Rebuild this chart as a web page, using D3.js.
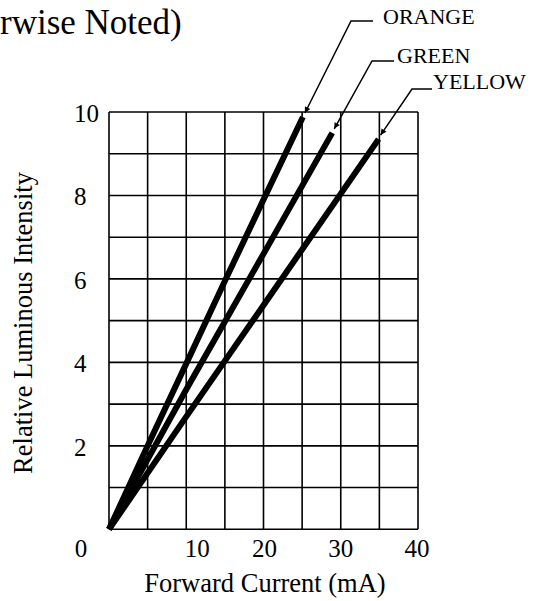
<!DOCTYPE html>
<html>
<head>
<meta charset="utf-8">
<script src="https://cdn.jsdelivr.net/npm/d3@7"></script>
<style>
  html, body { margin: 0; padding: 0; background: #fff; }
  svg { display: block; }
  text { font-family: "Liberation Serif", "Times New Roman", serif; fill: #000; }
</style>
</head>
<body>
<svg id="chart" width="536" height="601"></svg>
<script>
// ---- data ----
const seriesNames = ["ORANGE", "GREEN", "YELLOW"];
const orangeCurrent = [0, 5, 10, 15, 20, 25.1];
const orangeIntensity = [0, 2.0, 3.97, 5.95, 7.9, 9.88];
const greenCurrent = [0, 10, 20, 28.9];
const greenIntensity = [0, 3.35, 6.6, 9.5];
const yellowCurrent = [0, 10, 20, 34.9];
const yellowIntensity = [0, 2.7, 5.37, 9.35];
const xTickLabels = [0, 10, 20, 30, 40];
const yTickLabels = [2, 4, 6, 8, 10];
const xGridValues = [0, 5, 10, 15, 20, 25, 30, 35, 40];
const yGridValues = [0, 1, 2, 3, 4, 5, 6, 7, 8, 9, 10];
const titleText = "rwise Noted)";
const xTitle = "Forward Current (mA)";
const yTitle = "Relative Luminous Intensity";

const series = [
  { name: seriesNames[0], xs: orangeCurrent, ys: orangeIntensity },
  { name: seriesNames[1], xs: greenCurrent, ys: greenIntensity },
  { name: seriesNames[2], xs: yellowCurrent, ys: yellowIntensity }
];

// ---- layout ----
const svg = d3.select("#chart");
const x = d3.scaleLinear().domain([0, 40]).range([109, 418]);
const y = d3.scaleLinear().domain([0, 10]).range([529.3, 112]);

// title fragment
svg.append("text").attr("x", 0).attr("y", 34)
  .attr("font-size", 35).text(titleText);

// grid
const grid = svg.append("g").attr("stroke", "#000").attr("stroke-width", 1.6).attr("fill", "none");
grid.selectAll("line.v").data(xGridValues).join("line").attr("class", "v")
  .attr("x1", d => x(d)).attr("x2", d => x(d))
  .attr("y1", y(0)).attr("y2", y(10));
grid.selectAll("line.h").data(yGridValues).join("line").attr("class", "h")
  .attr("x1", x(0)).attr("x2", x(40))
  .attr("y1", d => y(d)).attr("y2", d => y(d));

// y tick labels
svg.selectAll("text.yt").data(yTickLabels).join("text").attr("class", "yt")
  .attr("x", 74).attr("y", d => y(d) + 10)
  .attr("font-size", 25).text(d => d);

// x tick labels (reference places them with slight nudges)
const xNudge = { 0: -28, 10: 11, 20: 1, 30: 0, 40: -1 };
svg.selectAll("text.xt").data(xTickLabels).join("text").attr("class", "xt")
  .attr("x", d => x(d) + xNudge[d]).attr("y", 557)
  .attr("text-anchor", "middle")
  .attr("font-size", 25).text(d => d);

// axis titles
svg.append("text").attr("x", 265).attr("y", 592)
  .attr("text-anchor", "middle").attr("font-size", 26.5).text(xTitle);
svg.append("text").attr("transform", "translate(32,323) rotate(-90)")
  .attr("text-anchor", "middle").attr("font-size", 26.5).text(yTitle);

// curves
const line = d3.line().x(d => x(d[0])).y(d => y(d[1]));
svg.append("g").selectAll("path").data(series).join("path")
  .attr("d", s => line(s.xs.map((v, i) => [v, s.ys[i]])))
  .attr("fill", "none").attr("stroke", "#000")
  .attr("stroke-width", 6).attr("stroke-linejoin", "round");

// arrow marker
const defs = svg.append("defs");
defs.append("marker").attr("id", "arr")
  .attr("viewBox", "0 0 10 10").attr("refX", 10).attr("refY", 5)
  .attr("markerWidth", 9).attr("markerHeight", 6).attr("markerUnits", "userSpaceOnUse")
  .attr("orient", "auto")
  .append("path").attr("d", "M0,0 L10,5 L0,10 Z").attr("fill", "#000");

// labels with leader lines
const labelLayout = [
  { knee: [351, 21], elbowEnd: [373, 21], text: [383, 24] },
  { knee: [372, 61], elbowEnd: [394, 61], text: [397, 63] },
  { knee: [412, 89], elbowEnd: [432, 89], text: [433, 89] }
];
series.forEach((s, i) => {
  const L = labelLayout[i];
  const n = s.xs.length - 1;
  const ex = x(s.xs[n]) + 2, ey = y(s.ys[n]) - 4;
  svg.append("path")
    .attr("d", `M${L.elbowEnd[0]},${L.elbowEnd[1]} L${L.knee[0]},${L.knee[1]} L${ex},${ey}`)
    .attr("fill", "none").attr("stroke", "#000").attr("stroke-width", 1.5)
    .attr("marker-end", "url(#arr)");
  svg.append("text").attr("x", L.text[0]).attr("y", L.text[1])
    .attr("font-size", 22).text(s.name);
});
</script>
</body>
</html>
